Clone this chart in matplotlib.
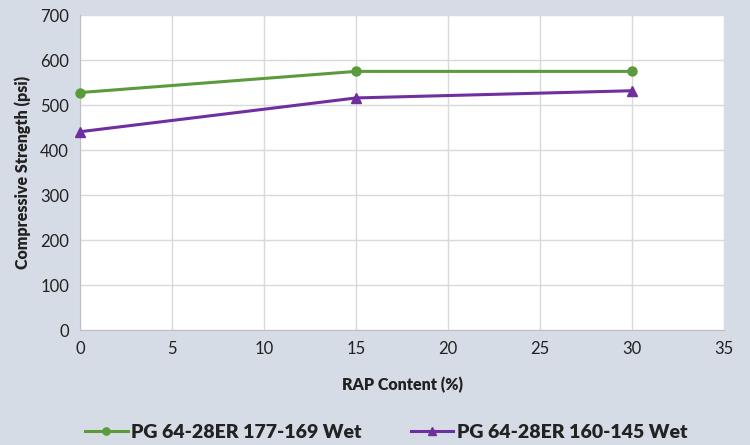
import matplotlib
matplotlib.use("Agg")
import matplotlib.pyplot as plt

plt.rcParams['font.family'] = ['Lato', 'DejaVu Sans']

rap = [0, 15, 30]
s1_name = "PG 64-28ER 177-169 Wet"
s1 = [528, 575, 575]
s2_name = "PG 64-28ER 160-145 Wet"
s2 = [441, 516, 532]

bg = '#d6dce5'
fig = plt.figure(figsize=(7.5, 4.45), dpi=100, facecolor=bg)
ax = fig.add_axes([0.107, 0.258, 0.858, 0.708])
ax.set_facecolor('white')

ax.plot(rap, s1, color='#5b9b3c', lw=2.2, marker='o', ms=6.5, label=s1_name, clip_on=False, zorder=3)
ax.plot(rap, s2, color='#6f2f9f', lw=2.2, marker='^', ms=7, label=s2_name, clip_on=False, zorder=3)

ax.set_xlim(0, 35)
ax.set_ylim(0, 700)
ax.set_xticks(range(0, 36, 5))
ax.set_yticks(range(0, 701, 100))
ax.grid(True, color='#d9d9d9', lw=1)
ax.set_axisbelow(True)
ax.tick_params(length=0, labelsize=12, colors='#222222', pad=8)
ax.spines['top'].set_visible(False)
ax.spines['right'].set_visible(False)
ax.spines['left'].set_color('#bfbfbf')
ax.spines['bottom'].set_color('#bfbfbf')

ax.set_xlabel('RAP Content (%)', fontsize=11.5, fontweight='heavy', color='#222222', labelpad=14)
ax.set_ylabel('Compressive Strength (psi)', fontsize=11.5, fontweight='heavy', color='#222222', labelpad=7)

fig.legend(loc='lower center', bbox_to_anchor=(0.515, -0.03), ncol=2, frameon=False,
           prop={'size': 14, 'weight': 'heavy'}, handlelength=2.2, handletextpad=0.2,
           columnspacing=2.5, markerscale=0.8, labelcolor='#222222')

fig.savefig('out.png', dpi=100, facecolor=bg)
